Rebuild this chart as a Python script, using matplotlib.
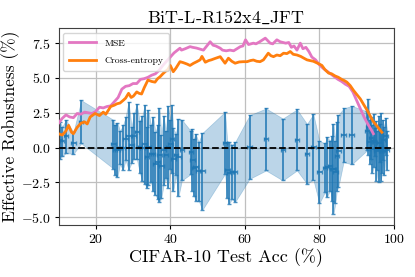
import numpy as np
import matplotlib
matplotlib.use("Agg")
import matplotlib.pyplot as plt

plt.rcParams['font.family'] = ['cmr10', 'DejaVu Serif']
plt.rcParams['mathtext.fontset'] = 'cm'
plt.rcParams['axes.formatter.use_mathtext'] = True
plt.rcParams['axes.unicode_minus'] = True

# effective robustness of individual models (x, top of bar, bottom of bar)
model_acc = [10.4, 11.0, 12.0, 14.0, 16.1, 24.7, 25.2, 25.8, 26.5, 27.3, 28.0, 28.8,
             29.6, 30.3, 31.0, 31.8, 32.5, 33.1, 33.7, 34.1, 34.8, 35.4, 36.0, 36.6,
             37.1, 37.6, 38.2, 38.8, 39.4, 40.0, 40.4, 40.8, 41.5, 42.2, 43.1, 45.5,
             45.9, 46.4, 46.8, 47.6, 48.6, 54.7, 55.3, 55.8, 56.5, 57.4, 61.3, 65.7,
             70.2, 74.0, 76.7, 78.4, 80.0, 81.5, 82.0, 82.9, 83.5, 83.8, 84.3, 84.7,
             85.1, 86.5, 88.7, 92.8, 93.2, 93.5, 93.9, 94.2, 94.6, 95.0, 95.3, 95.6,
             95.9, 96.2, 96.5, 96.8, 97.1, 97.4, 97.8, 98.2]
model_hi = [1.85, 1.5, 2.0, 1.1, 3.4, 2.0, 1.6, 1.8, 1.2, 1.6, 2.2, 3.3,
            1.5, 2.5, 3.1, 1.9, 2.3, 3.05, 1.5, 2.7, 1.6, 2.2, 1.1, 1.6,
            2.86, 0.9, 2.3, 1.2, 3.0, 2.0, 3.05, 1.4, 1.0, 2.09, 2.0, 1.2,
            1.37, 0.6, 1.0, 0.4, 1.05, 2.57, 0.4, 0.4, 0.2, 0.4, 2.33, 2.81,
            2.09, 2.74, 1.7, 2.4, 0.5, 0.3, 0.76, 0.5, 0.8, 1.73, 0.5, 1.85,
            2.33, 2.81, 3.0, 2.6, 3.5, 2.0, 2.2, 1.6, 2.4, 1.4, 1.9, 1.2,
            2.3, 1.7, 2.5, 1.3, 2.0, 1.5, 2.1, 1.2]
model_lo = [-0.8, -0.6, -0.4, -0.45, 0.3, -1.5, -2.0, -2.1, -1.2, -1.6, -0.9, -1.6,
            -1.1, -0.8, -0.8, -1.8, -2.4, -2.6, -2.9, -2.65, -2.5, -3.1, -3.4, -3.7,
            -3.9, -3.6, -2.7, -2.2, -2.9, -1.5, -1.85, -3.1, -2.0, -3.5, -2.36, -1.9,
            -3.08, -3.5, -3.8, -3.8, -4.47, -1.88, -3.6, -4.04, -3.7, -3.9, -2.24, -1.64,
            -2.36, -1.64, -2.6, -2.3, -4.0, -3.2, -3.56, -3.08, -3.8, -4.76, -4.0, -3.08,
            -2.84, -1.04, -1.2, -0.2, -0.5, -1.2, -0.8, -1.8, -1.4, -0.6, -2.4, -1.6,
            -2.5, -1.0, -2.4, -1.8, -0.9, -2.0, -0.5, -1.6]

mse_x = [10, 11, 12, 13, 14, 15, 16, 17, 18, 19, 20, 21, 22, 23, 24, 25, 26, 27, 28, 29,
         30, 31, 32, 33, 34, 35, 36, 37, 38, 39, 40, 41, 42.6, 43, 44, 45.3, 46, 47, 48.9, 49.5,
         50.7, 51.5, 52.2, 53.4, 54, 55, 56, 57, 58.8, 59.5, 60.2, 61, 62.3, 63, 64, 65.5, 66.8, 67.5,
         68.6, 69.5, 71, 71.8, 72.5, 73.2, 74, 74.9, 75.6, 76.4, 77.2, 78, 79, 80, 81, 82,
         83, 84, 85, 86, 87, 88, 89, 90, 91, 92, 93, 94, 94.5]
mse_y = [1.75, 2.1, 2.35, 2.2, 2.15, 2.45, 2.4, 2.55, 2.5, 2.45, 2.6, 2.9, 2.85, 2.95, 3.0, 3.3,
         3.6, 4.2, 4.4, 4.45, 4.6, 4.6, 4.9, 4.95, 5.05, 5.2, 5.3, 5.55, 5.9, 6.2, 6.5, 6.8,
         7.14, 7.0, 7.1, 7.25, 7.2, 7.15, 7.0, 7.2, 7.6, 7.35, 7.3, 7.14, 7.0, 6.95, 7.0, 6.95,
         7.25, 7.3, 7.74, 7.4, 7.5, 7.45, 7.6, 7.86, 7.5, 7.45, 7.74, 7.6, 7.5, 7.55, 7.2, 7.3,
         7.0, 7.5, 7.1, 7.2, 6.9, 6.5, 6.3, 5.95, 5.7, 5.5, 5.3, 5.1, 4.9, 4.75, 4.55, 4.4,
         4.0, 3.4, 2.8, 2.2, 1.7, 1.25, 1.0]

ce_x = [10, 11, 12, 12.7, 13.5, 14, 15, 16, 17, 17.7, 18.5, 19.8, 21, 22, 22.7, 24, 25,
        25.7, 26.5, 27.4, 28, 28.8, 29.5, 30.1, 31, 31.6, 32.3, 33, 34, 35, 35.9, 36.6,
        37.3, 38, 38.6, 39.3, 40, 40.8, 41.5, 42.6, 43.5, 44.5, 45.3, 46.2, 47.1, 48,
        48.5, 49.4, 50.3, 51, 52, 53.4, 54.7, 55.6, 56.5, 57.4, 58.5, 59.6, 60.6, 61.5,
        62.3, 63.2, 64.1, 65, 66.3, 67, 67.7, 68.6, 69.5, 70.4, 71.3, 72.2, 73, 74, 75,
        76, 76.7, 77.5, 78.4, 79.2, 80, 80.7, 81.5, 82.5, 83.3, 84.2, 85.1, 86, 86.8,
        87.4, 88.3, 89.2, 90.1, 91, 92, 92.8, 93.6, 94.4, 95, 95.9, 96.8]
ce_y = [1.0, 0.9, 1.2, 1.6, 1.1, 1.0, 1.45, 1.75, 1.85, 1.7, 2.2, 2.45, 2.3, 2.55, 2.4,
        2.95, 3.05, 3.15, 3.2, 3.4, 3.55, 3.9, 3.6, 3.7, 4.0, 3.9, 3.85, 4.3, 4.85, 4.75,
        4.7, 4.95, 5.1, 5.3, 5.45, 5.6, 5.9, 5.45, 5.7, 6.17, 6.1, 6.0, 5.9, 6.05, 6.17,
        6.3, 6.55, 6.13, 6.25, 6.3, 6.4, 6.53, 6.06, 6.42, 6.2, 6.06, 6.15, 6.17, 6.17,
        6.25, 6.29, 6.2, 6.17, 6.3, 6.78, 6.6, 6.53, 6.65, 6.6, 6.78, 6.75, 6.9, 6.7,
        6.65, 6.55, 6.4, 6.3, 6.25, 6.2, 6.1, 6.0, 5.9, 5.6, 5.35, 5.3, 5.15, 5.05, 4.9,
        4.8, 4.7, 4.45, 4.1, 3.8, 3.5, 3.05, 2.7, 2.3, 1.9, 1.7, 1.4, 1.1]

acc = np.array(model_acc)
hi = np.array(model_hi)
lo = np.array(model_lo)
mid = (hi + lo) / 2
err = (hi - lo) / 2

fig, ax = plt.subplots(figsize=(4.15, 2.77), dpi=100)
fig.subplots_adjust(left=0.141, right=0.949, bottom=0.188, top=0.898)

ax.fill_between(acc, lo, hi, color='C0', alpha=0.3, linewidth=0.5)
ax.errorbar(acc, mid, yerr=err, xerr=0.6, fmt='none', ecolor='C0', alpha=0.8,
            elinewidth=1.4, capsize=1.5)
ax.plot(mse_x, mse_y, color='#e377c2', lw=2, label='MSE', zorder=3)
ax.plot(ce_x, ce_y, color='#ff7f0e', lw=2, label='Cross-entropy', zorder=3)
ax.axhline(0, color='k', ls='--', lw=1.3, zorder=4)

ax.set_xlim(10, 100)
ax.set_ylim(-5.55, 8.57)
ax.set_xticks([20, 40, 60, 80, 100])
ax.set_yticks([-5, -2.5, 0, 2.5, 5, 7.5])
ax.set_yticklabels(['$-5.0$', '$-2.5$', '$0.0$', '$2.5$', '$5.0$', '$7.5$'])
ax.set_xticklabels(['$20$', '$40$', '$60$', '$80$', '$100$'])
ax.tick_params(labelsize=10, length=3, pad=2.5)
ax.grid(True, color='0.75', lw=0.9)
ax.set_axisbelow(True)
for s in ax.spines.values():
    s.set_color('0.25')

ax.set_title(r'BiT-L-R152x4$\_$JFT', fontsize=13, pad=4)
ax.set_xlabel('CIFAR-10 Test Acc (%)', fontsize=13, labelpad=2)
ax.set_ylabel('Effective Robustness (%)', fontsize=12.5, labelpad=1)
ax.legend(loc='upper left', fontsize=7, handlelength=2.8, labelspacing=0.9,
          borderpad=0.6)

fig.savefig('out.png', dpi=100)
